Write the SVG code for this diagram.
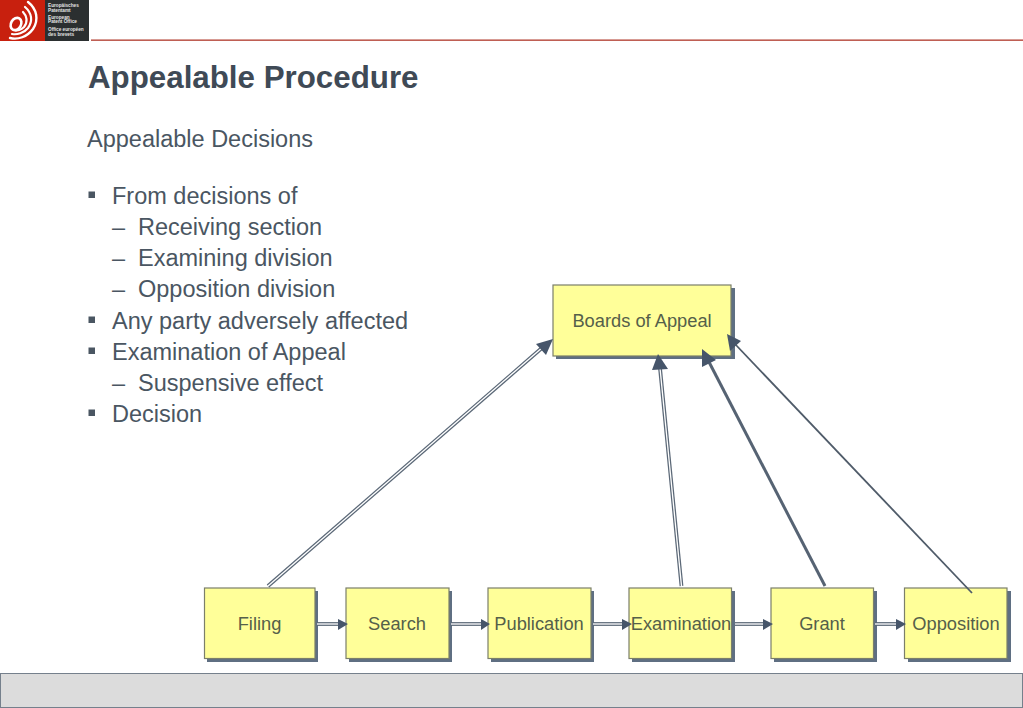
<svg xmlns="http://www.w3.org/2000/svg" width="1023" height="708" viewBox="0 0 1023 708">
<style>
text{font-family:"Liberation Sans",Arial,sans-serif}
.t{fill:#3f4a56}
.b{font-size:23.5px;fill:#4a5662}
.n{font-size:18.3px;fill:#55604a;text-anchor:middle}
.box{fill:#ffff99;stroke:#7b7f6a;stroke-width:1.2}
.sh{fill:#5f6f82}
.o{fill:none;stroke:#5b6877;stroke-width:3.8}
.i{fill:none;stroke:#fff;stroke-width:1.3}
.h{fill:#46556a}
.lg{font-size:4.7px;font-weight:bold;fill:#e4e4e4}
.bl{fill:#4a5662}
</style>
<g id="logo">
<rect x="0" y="0" width="45" height="41" fill="#c8200e"/>
<rect x="45" y="0" width="44" height="41" fill="#2b2f30"/>
<g fill="none" stroke="#fff" stroke-linecap="round">
<path d="M28 2C37 9 39 20 33 29C27 37 18 40 10 38" stroke-width="2.4"/>
<path d="M25 7C32 13 33 21 28 28C24 33 17 35 12 34" stroke-width="2.2"/>
<path d="M23 12C27 16 28 22 24 27C21 30 17 31 15 30" stroke-width="2.2"/>
<ellipse cx="16" cy="24" rx="5" ry="6.500" transform="rotate(30 16 24)" stroke-width="2.600"/>
</g>
<text class="lg" x="48" y="7">Europäisches</text>
<text class="lg" x="48" y="11.500">Patentamt</text>
<text class="lg" x="48" y="18.500">European</text>
<text class="lg" x="48" y="23">Patent Office</text>
<text class="lg" x="48" y="31">Office européen</text>
<text class="lg" x="48" y="35.500">des brevets</text>
</g>
<rect x="91" y="39.500" width="932" height="1.300" fill="#b0392b"/>
<text x="88" y="88" font-size="31.300" font-weight="bold" class="t">Appealable Procedure</text>
<text x="87" y="147" class="b">Appealable Decisions</text>
<g id="bullets">
<rect class="bl" x="88.500" y="191.500" width="6.500" height="6.500"/>
<text class="b" x="112" y="203.500">From decisions of</text>
<text class="b" x="112" y="235">–</text><text class="b" x="138" y="235">Receiving section</text>
<text class="b" x="112" y="266">–</text><text class="b" x="138" y="266">Examining division</text>
<text class="b" x="112" y="297">–</text><text class="b" x="138" y="297">Opposition division</text>
<rect class="bl" x="88.500" y="316.500" width="6.500" height="6.500"/>
<text class="b" x="112" y="328.500">Any party adversely affected</text>
<rect class="bl" x="88.500" y="347.500" width="6.500" height="6.500"/>
<text class="b" x="112" y="359.500">Examination of Appeal</text>
<text class="b" x="112" y="391">–</text><text class="b" x="138" y="391">Suspensive effect</text>
<rect class="bl" x="88.500" y="409.500" width="6.500" height="6.500"/>
<text class="b" x="112" y="421.500">Decision</text>
</g>
<g id="n-boards"><rect class="sh" x="556" y="288" width="179" height="71"/><rect class="box" x="553" y="285" width="178" height="71"/><text class="n" x="642" y="327">Boards of Appeal</text></g>
<g id="n-filing"><rect class="sh" x="207" y="591" width="111" height="71"/><rect class="box" x="204.500" y="588" width="110.500" height="70.500"/><text class="n" x="259.500" y="630">Filing</text></g>
<g id="n-search"><rect class="sh" x="349" y="591" width="103" height="71"/><rect class="box" x="346" y="588" width="103" height="70.500"/><text class="n" x="397" y="630">Search</text></g>
<g id="n-publication"><rect class="sh" x="491" y="591" width="103" height="71"/><rect class="box" x="488" y="588" width="103" height="70.500"/><text class="n" x="539" y="630">Publication</text></g>
<g id="n-examination"><rect class="sh" x="632" y="591" width="103" height="71"/><rect class="box" x="629" y="588" width="102.500" height="70.500"/><text class="n" x="681" y="630">Examination</text></g>
<g id="n-grant"><rect class="sh" x="774" y="591" width="103" height="71"/><rect class="box" x="771" y="588" width="102.500" height="70.500"/><text class="n" x="822" y="630">Grant</text></g>
<g id="n-opposition"><rect class="sh" x="908" y="591" width="103" height="71"/><rect class="box" x="904.500" y="588" width="102.500" height="70.500"/><text class="n" x="956" y="630">Opposition</text></g>
<g id="connectors">
<path class="o" d="M268 586L543 347"/><path class="i" d="M268 586L543 347"/>
<polygon class="h" points="553,339 536,344 546,355"/>
<path class="o" d="M681.500 586L660 368"/><path class="i" d="M681.500 586L660 368"/>
<polygon class="h" points="658,354 652,370 668,369"/>
<path d="M825 586L709 362" fill="none" stroke="#566373" stroke-width="3"/>
<polygon class="h" points="702,349 702,367 716,360"/>
<path d="M972 593L735 344" fill="none" stroke="#4f5b69" stroke-width="1.800"/>
<polygon class="h" points="727,334 730,351 741,341"/>
<path class="o" d="M317 624L338 624"/><path class="i" d="M317 624L338 624"/><polygon class="h" points="348,624 338,619 338,630"/>
<path class="o" d="M451 624L481 624"/><path class="i" d="M451 624L481 624"/><polygon class="h" points="490,624 481,619 481,630"/>
<path class="o" d="M593 624L622 624"/><path class="i" d="M593 624L622 624"/><polygon class="h" points="632,624 622,619 622,630"/>
<path class="o" d="M735 624L763 624"/><path class="i" d="M735 624L763 624"/><polygon class="h" points="773,624 763,619 763,630"/>
<path class="o" d="M875 624L896 624"/><path class="i" d="M875 624L896 624"/><polygon class="h" points="906,624 896,619 896,630"/>
</g>
<rect x="0.500" y="673.500" width="1022" height="34" fill="#dcdcdc" stroke="#75808c" stroke-width="1"/>
</svg>
